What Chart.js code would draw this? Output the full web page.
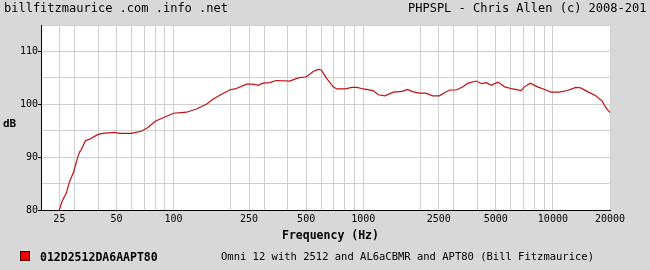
<!DOCTYPE html>
<html>
<head>
<meta charset="utf-8">
<script src="https://cdn.jsdelivr.net/npm/chart.js@4/dist/chart.umd.min.js"></script>
<style>
  html, body { margin: 0; padding: 0; background: #d8d8d8; overflow: hidden; }
  #wrap { position: relative; width: 650px; height: 270px; overflow: hidden; font-family: "DejaVu Sans Mono", monospace; color: #000; }
  #wrap canvas { position: absolute; left: 0; top: 0; }
  .txt { position: absolute; white-space: nowrap; line-height: 14px; }
  .bold { font-weight: bold; }
  #swatch { position: absolute; left: 20px; top: 251px; width: 8px; height: 8px; background: #ee0000; border: 1px solid #500; }
</style>
</head>
<body>
<div id="wrap">
  <canvas id="spl" width="650" height="270"></canvas>
  <div class="txt" style="left:4px; top:1px; font-size:12px;">billfitzmaurice .com .info .net</div>
  <div class="txt" style="left:408px; top:1px; font-size:12px;">PHPSPL - Chris Allen (c) 2008-201</div>
  <div class="txt bold" style="left:3px; top:117px; font-size:11px;">dB</div>
  <div class="txt bold" style="left:282px; top:228px; font-size:11.5px;">Frequency (Hz)</div>
  <div id="swatch"></div>
  <div class="txt bold" style="left:40px; top:250px; font-size:11.5px;">012D2512DA6AAPT80</div>
  <div class="txt" style="left:221px; top:249px; font-size:10.5px;">Omni 12 with 2512 and AL6aCBMR and APT80 (Bill Fitzmaurice)</div>
</div>
<script>
// ------------------- DATA -------------------

const freqs = [25, 25.8, 27.2, 28.3, 29.7, 31.3, 32.0, 32.6, 34.3, 36.1, 40, 42.3, 48.9, 51.9, 59.9,
  67.5, 73.3, 80, 90, 100, 117, 132, 149, 162, 183, 200, 211, 243, 263, 279, 296, 322, 348, 410,
  454, 502, 545, 578, 601, 641, 695, 725, 804, 870, 928, 1001, 1128, 1200, 1299, 1441, 1600, 1714,
  1815, 1971, 2141, 2321, 2519, 2684, 2850, 3093, 3356, 3570, 3950, 4200, 4460, 4730, 5130, 5570,
  6150, 6800, 7080, 7600, 8300, 9200, 9770, 10800, 11930, 13200, 14000, 15230, 16800, 18200, 18970, 20000];

const splDb = [80.0, 81.6, 83.2, 85.4, 87.2, 90.1, 91.0, 91.4, 93.1, 93.4, 94.3, 94.5, 94.7, 94.5, 94.5,
  94.9, 95.6, 96.8, 97.6, 98.3, 98.5, 99.1, 100.0, 101.0, 102.1, 102.8, 102.9, 103.8, 103.8, 103.6, 104.0, 104.1, 104.5, 104.4,
  105.0, 105.2, 106.2, 106.6, 106.5, 104.9, 103.3, 102.9, 102.9, 103.2, 103.2, 102.9, 102.6, 101.8, 101.6, 102.3, 102.45, 102.8,
  102.4, 102.1, 102.1, 101.6, 101.6, 102.2, 102.7, 102.7, 103.3, 104.0, 104.4, 103.9, 104.1, 103.6, 104.2, 103.3,
  102.9, 102.6, 103.3, 104.0, 103.3, 102.7, 102.3, 102.3, 102.6, 103.2, 103.1, 102.4, 101.6, 100.6, 99.4, 98.4];

// vertical grid lines and the ones that get a label
const gridFreqs = [20, 25, 30, 40, 50, 60, 70, 80, 90,
  100, 200, 250, 300, 400, 500, 600, 700, 800, 900,
  1000, 2000, 2500, 3000, 4000, 5000, 6000, 7000, 8000, 9000,
  10000, 20000];
const freqLabels = [25, 50, 100, 250, 500, 1000, 2500, 5000, 10000, 20000];
const dbLabels = [80, 90, 100, 110];

// ------------------- CHART -------------------

const mono = { family: "'DejaVu Sans Mono', monospace", size: 10 };

const whitePlot = {
  id: 'whitePlot',
  beforeDraw(chart) {
    const a = chart.chartArea;
    const ctx = chart.ctx;
    ctx.save();
    ctx.fillStyle = '#ffffff';
    ctx.fillRect(a.left, a.top, a.right - a.left, a.bottom - a.top);
    ctx.restore();
  }
};

new Chart(document.getElementById('spl'), {
  type: 'line',
  data: {
    datasets: [{
      label: '012D2512DA6AAPT80',
      data: freqs.map((f, i) => ({ x: f, y: splDb[i] })),
      borderColor: '#c01010',
      borderWidth: 1.2,
      pointRadius: 0,
      tension: 0,
      fill: false
    }]
  },
  options: {
    responsive: false,
    animation: false,
    layout: { padding: { top: 25, right: 40, left: 0, bottom: 0 } },
    plugins: { legend: { display: false }, tooltip: { enabled: false } },
    scales: {
      x: {
        type: 'logarithmic',
        min: 20,
        max: 20000,
        afterBuildTicks: scale => { scale.ticks = gridFreqs.map(v => ({ value: v })); },
        afterFit: scale => { scale.height = 60; },
        ticks: {
          autoSkip: false,
          maxRotation: 0,
          padding: 3,
          color: '#000',
          font: mono,
          callback: v => freqLabels.includes(v) ? String(v) : ''
        },
        grid: { color: '#d0d0d0', drawTicks: false },
        border: { color: '#000', width: 1 }
      },
      y: {
        min: 80,
        max: 115,
        afterFit: scale => { scale.width = 41; },
        ticks: {
          stepSize: 5,
          padding: 0,
          color: '#000',
          font: mono,
          callback: v => dbLabels.includes(v) ? String(v) : ''
        },
        grid: {
          color: '#d0d0d0',
          tickLength: 3,
          tickColor: ctx => dbLabels.includes(ctx.tick.value) ? '#000' : 'rgba(0,0,0,0)'
        },
        border: { color: '#000', width: 1 }
      }
    }
  },
  plugins: [whitePlot]
});
</script>
</body>
</html>
